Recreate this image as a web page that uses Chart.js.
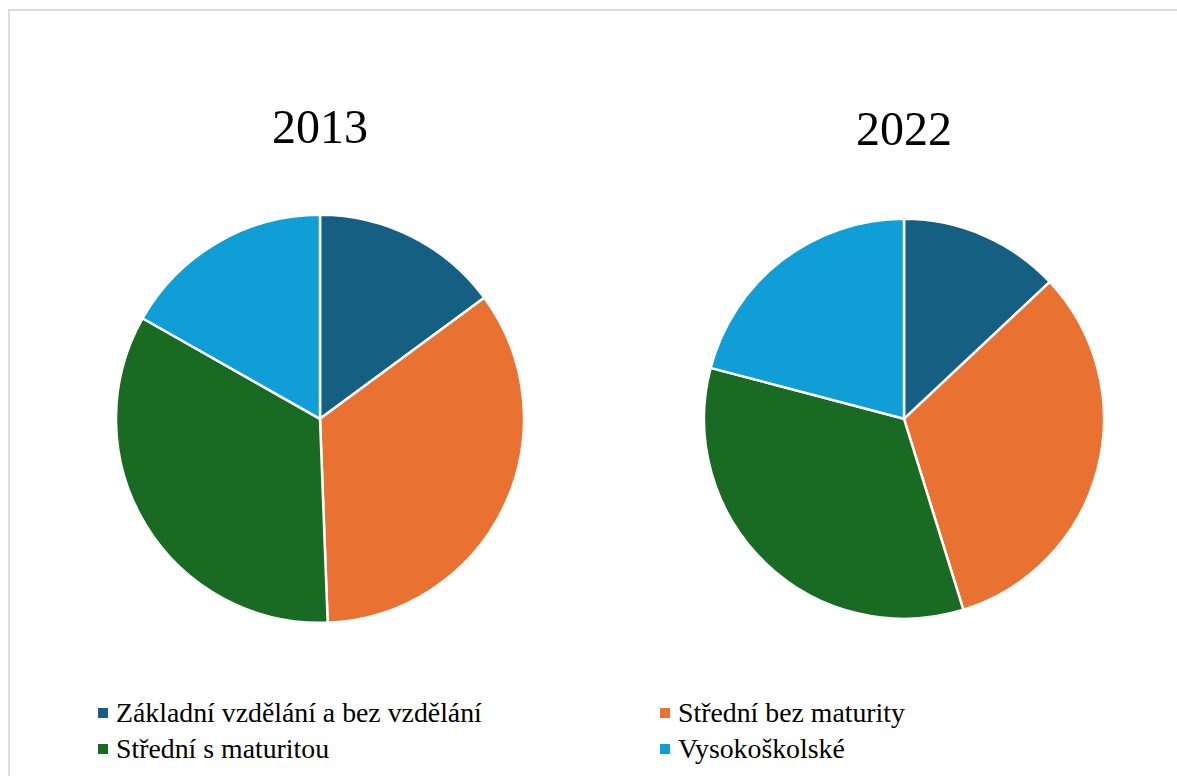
<!DOCTYPE html>
<html>
<head>
<meta charset="utf-8">
<script src="https://cdn.jsdelivr.net/npm/chart.js@4/dist/chart.umd.min.js"></script>
<style>
  html, body { margin: 0; padding: 0; background: #fff; overflow: hidden; }
  body { width: 1177px; height: 776px; position: relative; }
  #ramecek { position: absolute; left: 8px; top: 9px; width: 1200px; height: 800px; border: 2px solid #dcdcdc; }
  #c1 { position: absolute; left: 0; top: 0; }
  #c2 { position: absolute; left: 640px; top: 0; }
  .polozka { position: absolute; white-space: nowrap; line-height: 36px; font-family: 'Liberation Serif', serif; font-size: 27.8px; color: #000; }
  .ctverec { position: absolute; width: 10px; height: 10px; top: 13px; left: 0; }
</style>
</head>
<body>
<div id="ramecek"></div>
<canvas id="c1" width="640" height="622"></canvas>
<canvas id="c2" width="528" height="618"></canvas>
<div id="legenda"></div>
<script>
var kategorie = ['Základní vzdělání a bez vzdělání', 'Střední bez maturity', 'Střední s maturitou', 'Vysokoškolské'];
var hodnoty2013 = [14.9, 34.5, 33.8, 16.8];
var hodnoty2022 = [13.0, 32.2, 33.9, 20.9];
var barvy = ['#156082', '#E97132', '#196B24', '#0F9ED5'];

Chart.defaults.font.family = "'Liberation Serif', serif";

function kolac(idCanvas, titulek, data, polomer, padTop, padBottom) {
    var ctx = document.getElementById(idCanvas).getContext('2d');
    new Chart(ctx, {
        type: 'pie',
        data: {
            labels: kategorie,
            datasets: [{
                data: data,
                backgroundColor: barvy,
                borderColor: '#ffffff',
                borderWidth: 2.5
            }]
        },
        options: {
            responsive: false,
            animation: false,
            radius: polomer,
            layout: { padding: 0 },
            plugins: {
                legend: { display: false },
                tooltip: { enabled: false },
                title: {
                    display: true,
                    text: titulek,
                    color: '#000',
                    font: { size: 48, weight: 'normal' },
                    padding: { top: padTop, bottom: padBottom }
                }
            }
        }
    });
}

kolac('c1', '2013', hodnoty2013, 204, 102, 56);
kolac('c2', '2022', hodnoty2022, 200, 104, 58);

// legenda - dva sloupce
var pozice = [[98, 695], [660, 695], [98, 731], [660, 731]];
var html = '';
for (var i = 0; i < kategorie.length; i++) {
    html += "<div class='polozka' style='left:" + pozice[i][0] + "px; top:" + pozice[i][1] + "px;'>";
    html += "<span class='ctverec' style='background:" + barvy[i] + ";'></span>";
    html += "<span style='margin-left:18px;'>" + kategorie[i] + "</span></div>";
}
document.getElementById('legenda').innerHTML = html;
</script>
</body>
</html>
